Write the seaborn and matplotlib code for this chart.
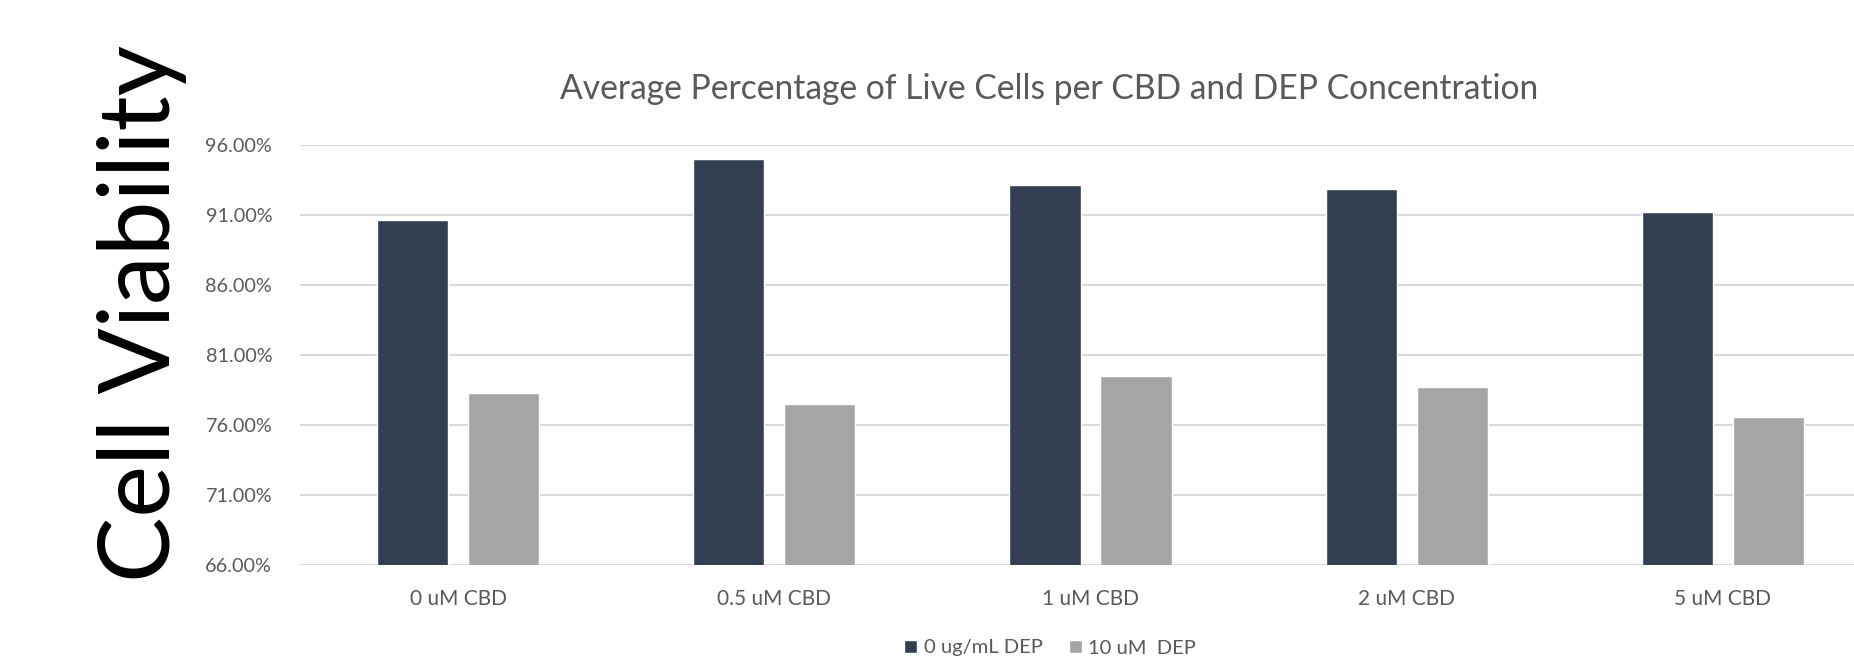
import pandas as pd
import matplotlib
matplotlib.use("Agg")
import matplotlib.pyplot as plt
import seaborn as sns
from matplotlib.ticker import FuncFormatter

# values (percent live cells)
concentrations = ['0 uM CBD', '0.5 uM CBD', '1 uM CBD', '2 uM CBD', '5 uM CBD']
series_names = ['0 ug/mL DEP', '10 uM  DEP']
no_dep = [90.65, 95.0, 93.15, 92.85, 91.25]
dep_10 = [78.3, 77.5, 79.5, 78.75, 76.55]
y_ticks = [66, 71, 76, 81, 86, 91, 96]

df = pd.DataFrame({
    'concentration': concentrations * 2,
    'series': [series_names[0]] * 5 + [series_names[1]] * 5,
    'viability': no_dep + dep_10,
})

sns.set_style("white")
plt.rcParams['font.family'] = ['Lato', 'DejaVu Sans']

text_col = '#595959'
fig = plt.figure(figsize=(18.54, 6.65), dpi=100)
ax = fig.add_axes([300 / 1854, 1 - 565 / 665, 1581 / 1854, 420 / 665])

sns.barplot(data=df, x='concentration', y='viability', hue='series',
            palette=['#333F50', '#A5A5A5'], width=0.576, gap=0.219,
            saturation=1, ax=ax, zorder=3)

ax.set_xlim(-0.5, 4.5)
ax.set_ylim(66, 96)
ax.set_yticks(y_ticks)
ax.yaxis.set_major_formatter(FuncFormatter(lambda v, p: f'{v:.2f}%'))
ax.yaxis.grid(True, color='#D9D9D9', linewidth=1.5, zorder=0)
ax.set_axisbelow(True)
for s in ax.spines.values():
    s.set_visible(False)
ax.tick_params(axis='both', length=0, colors=text_col)
ax.tick_params(axis='y', pad=20, labelsize=14.3)
ax.tick_params(axis='x', pad=17, labelsize=15)
ax.set_xlabel('')
ax.set_ylabel('')

handles, labels = ax.get_legend_handles_labels()
ax.legend_.remove()
fig.legend(handles, labels, loc='center', bbox_to_anchor=(1050 / 1854, 1 - 648 / 665),
           ncol=2, frameon=False, fontsize=14.5, labelcolor=text_col,
           handlelength=0.65, handleheight=0.65, handletextpad=0.3, columnspacing=1.3)

fig.text(1049 / 1854, 1 - 89 / 665,
         'Average Percentage of Live Cells per CBD and DEP Concentration',
         ha='center', va='center', fontsize=24.2, color=text_col)
fig.text(142 / 1854, 1 - 313 / 665, 'Cell Viability', rotation=90,
         ha='center', va='center', fontsize=70.5, color='black')

fig.savefig('out.png', dpi=100)
